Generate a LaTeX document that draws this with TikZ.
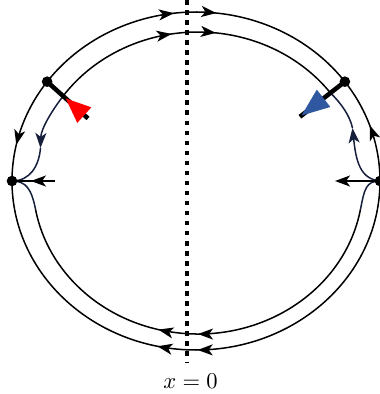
\documentclass[tikz,border=0pt]{standalone}
\usetikzlibrary{arrows.meta,decorations.markings}

\definecolor{slidenavy}{RGB}{22,32,60}
\definecolor{forceblue}{RGB}{47,88,160}

\tikzset{
  >={Stealth[length=15pt,width=11pt,inset=4pt]},
  orbit/.style={line width=1.5pt},
  flow at/.style={postaction={decorate,decoration={markings,
      mark=at position #1 with {\arrow{>}}}}},
  force/.style={line width=4.5pt},
}

\begin{document}
\begin{tikzpicture}[x=3.5cm,y=3.5cm]
  \useasboundingbox (-1.96,-2.13) rectangle (1.84,1.81);
  % 关键点：外圈椭圆与内圈椭圆
  \coordinate (oc) at (0,0);
  \coordinate (ic) at (0.02,-0.02);
  \coordinate (ul) at (144:1.84 and 1.69);
  \coordinate (ur) at (36:1.84 and 1.69);
  \coordinate (lp) at (-1.84,0);
  \coordinate (rp) at (1.84,0);
  \path (ic) ++(145:1.65 and 1.51) coordinate (rc);
  \path (ic) ++(36.5:1.65 and 1.51) coordinate (bc);
  \path (ic) ++(-10:1.65 and 1.51) coordinate (ir);
  \path (ic) ++(190:1.65 and 1.51) coordinate (il);
  % 外圈：四段轨道
  \draw[orbit,flow at=0.435,flow at=0.56] (ul) arc[start angle=144,end angle=36,x radius=1.84,y radius=1.69];
  \draw[orbit,flow at=0.66] (ul) arc[start angle=144,end angle=180,x radius=1.84,y radius=1.69];
  \draw[orbit,flow at=0.53] (rp) arc[start angle=0,end angle=36,x radius=1.84,y radius=1.69];
  \draw[orbit,flow at=0.497,flow at=0.57] (rp) arc[start angle=0,end angle=-180,x radius=1.84,y radius=1.69];
  % 内圈：上弧与下弧
  \draw[orbit,flow at=0.42,flow at=0.565] (rc) arc[start angle=145,end angle=36.5,x radius=1.65,y radius=1.51];
  \draw[orbit,flow at=0.5,flow at=0.59] (ir) arc[start angle=-10,end angle=-170,x radius=1.65,y radius=1.51];
  % 内圈：滑动段与尖点
  \draw[orbit,slidenavy,->] (rc) .. controls (-1.45,0.69) and (-1.55,0.52) .. (-1.555,0.33) coordinate (lt);
  \draw[orbit,slidenavy] (lt) .. controls (-1.57,0.15) and (-1.66,0) .. (lp);
  \draw[orbit,slidenavy] (lp) .. controls (-1.70,0) and (-1.645,-0.08) .. (il);
  \draw[orbit,slidenavy] (rp) .. controls (1.70,0) and (1.685,-0.08) .. (ir);
  \draw[orbit,slidenavy,->] (rp) .. controls (1.64,0.02) and (1.60,0.2) .. (1.565,0.53) coordinate (rt);
  \draw[orbit,slidenavy] (rt) .. controls (1.54,0.65) and (1.45,0.78) .. (bc);
  % 水平箭头
  \coordinate (lh) at (-1.41,0);
  \coordinate (rh) at (1.39,0);
  \draw[orbit,flow at=0.56] (lh) -- (lp);
  \draw[orbit,->] (rp) -- (rh);
  % 力的方向：红、蓝三角
  \begin{scope}[shift={(ul)},rotate=-42]
    \draw[force] (0,0) -- (0.55,0);
    \fill[red] (0.25,0) -- (0.5,0.105) -- (0.5,-0.105) -- cycle;
  \end{scope}
  \begin{scope}[shift={(ur)},rotate=218]
    \draw[force] (0,0) -- (0.57,0);
    \fill[forceblue] (0.55,0) -- (0.27,0.11) -- (0.27,-0.11) -- cycle;
  \end{scope}
  % 平衡点
  \foreach \p in {ul,ur,lp,rp} {
    \fill (\p) circle (5.3pt);
  }
  % 虚线：x=0
  \draw[line width=4.5pt,dash pattern=on 4.5pt off 5.5pt] (-0.09,1.81) -- (-0.09,-1.81);
  \node[scale=2.25] (lbl) at (-0.055,-2.0) {$x=0$};
\end{tikzpicture}
\end{document}
